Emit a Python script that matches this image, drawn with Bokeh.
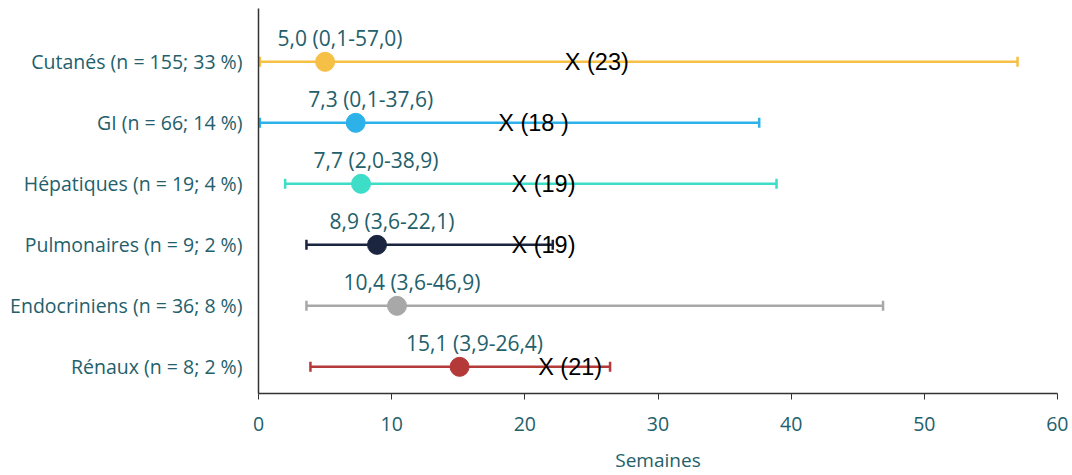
from bokeh.plotting import figure
from bokeh.models import ColumnDataSource, Range1d, FixedTicker
from bokeh.core.properties import value
from bokeh.embed import file_html
from bokeh.resources import INLINE

categories = ["Cutanés (n = 155; 33 %)", "GI (n = 66; 14 %)", "Hépatiques (n = 19; 4 %)",
              "Pulmonaires (n = 9; 2 %)", "Endocriniens (n = 36; 8 %)", "Rénaux (n = 8; 2 %)"]
median = [5.0, 7.3, 7.7, 8.9, 10.4, 15.1]
low = [0.1, 0.1, 2.0, 3.6, 3.6, 3.9]
high = [57.0, 37.6, 38.9, 22.1, 46.9, 26.4]
mean_value = [23, 18, 19, 19, None, 21]
mean_text = ["X (23)", "X (18 )", "X (19)", "X (19)", None, "X (21)"]
colors = ["#F6BF45", "#2CB2E8", "#3DDDC8", "#1B2540", "#A8A8A8", "#B43A3A"]
x_ticks = [0, 10, 20, 30, 40, 50, 60]

TEAL = "#23606B"
FONT = "Open Sans"
n = len(categories)
ypos = [n - i for i in range(n)]
labels = [f"{m:.1f} ({l:.1f}-{h:.1f})".replace(".", ",") for m, l, h in zip(median, low, high)]

src = ColumnDataSource(dict(y=ypos, median=median, low=low, high=high, color=colors, label=labels))

p = figure(width=1068, height=475, output_backend="svg", toolbar_location=None,
           x_range=Range1d(0, 60), y_range=Range1d(0.563, 6.874),
           min_border_left=258, min_border_right=11, min_border_top=8, min_border_bottom=77)
p.outline_line_color = None
p.grid.visible = False
p.background_fill_color = "white"

p.segment(x0="low", y0="y", x1="high", y1="y", line_color="color", line_width=2.5, source=src)
p.scatter(x="low", y="y", marker="dash", angle=1.5708, size=10, line_color="color", line_width=2.5, source=src)
p.scatter(x="high", y="y", marker="dash", angle=1.5708, size=10, line_color="color", line_width=2.5, source=src)
p.scatter(x="median", y="y", size=19, fill_color="color", line_color="color", source=src)
p.text(x="median", y="y", text="label", x_offset=15, y_offset=-24, text_align="center",
       text_baseline="middle", text_font=value(FONT), text_font_size="21px", text_color=TEAL, source=src)

mx = [v for v in mean_value if v is not None]
my = [ypos[i] for i, v in enumerate(mean_value) if v is not None]
mt = [mean_text[i] for i, v in enumerate(mean_value) if v is not None]
p.text(x=mx, y=my, text=mt, text_align="left", text_baseline="middle",
       text_font=value("Liberation Sans"), text_font_size="23.5px", text_color="black")

xa = p.xaxis[0]
xa.ticker = FixedTicker(ticks=x_ticks)
xa.minor_tick_line_color = None
xa.major_tick_in = 0
xa.major_tick_out = 6
xa.axis_line_color = "#333333"
xa.axis_line_width = 1.5
xa.major_tick_line_color = "#333333"
xa.major_label_text_font = FONT
xa.major_label_text_font_size = "19.5px"
xa.major_label_text_color = TEAL
xa.major_label_standoff = 17
xa.axis_label = "Semaines"
xa.axis_label_text_font = FONT
xa.axis_label_text_font_size = "19px"
xa.axis_label_text_font_style = "normal"
xa.axis_label_text_color = TEAL
xa.axis_label_standoff = 13

ya = p.yaxis[0]
ya.ticker = FixedTicker(ticks=ypos)
ya.major_label_overrides = {y: c for y, c in zip(ypos, categories)}
ya.major_tick_in = 0
ya.major_tick_out = 0
ya.minor_tick_line_color = None
ya.axis_line_color = "#333333"
ya.axis_line_width = 1.5
ya.major_label_text_font = FONT
ya.major_label_text_font_size = "19.5px"
ya.major_label_text_color = TEAL
ya.major_label_standoff = 16

open("out.html", "w").write(file_html(p, INLINE))
